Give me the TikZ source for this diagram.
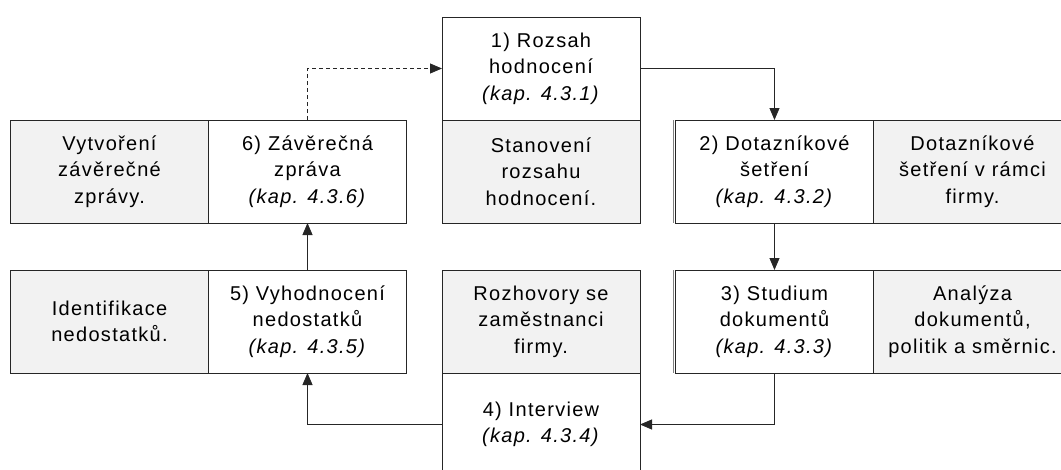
\documentclass[tikz,border=0pt]{standalone}
\usepackage{fontspec}
\setmainfont{Liberation Sans}[LetterSpace=6.5]
\usetikzlibrary{arrows.meta}
\definecolor{boxgray}{HTML}{F2F2F2}
\definecolor{linecol}{HTML}{262626}
\begin{document}
\begin{tikzpicture}[x=1pt,y=-1pt,
  half/.style={draw=linecol, line width=0.9pt, minimum width=198pt, minimum height=103pt,
    inner sep=0pt, outer sep=0pt, align=center, font=\fontsize{20}{26.5}\selectfont},
  titlebox/.style={half, fill=white},
  descbox/.style={half, fill=boxgray},
  conn/.style={draw=linecol, line width=0.9pt, -{Triangle[length=12pt,width=10pt]}},
  dconn/.style={conn, dash pattern=on 4pt off 3pt}]
\useasboundingbox (0,0) rectangle (1061,469);
\clip (0,0) rectangle (1061,469);
% box 6
\node[descbox]  (b6d) at (109.5,171.5) {Vytvoření\\závěrečné\\zprávy.};
\node[titlebox] (b6t) at (307.5,171.5) {6) Závěrečná\\zpráva\\\textit{(kap. 4.3.6)}};
% box 1
\node[titlebox] (b1t) at (541,68.5)  {1) Rozsah\\hodnocení\\\textit{(kap. 4.3.1)}};
\node[descbox]  (b1d) at (541,171.5) {Stanovení\\rozsahu\\hodnocení.};
% box 2
\node[titlebox] (b2t) at (774.5,171.5) {2) Dotazníkové\\šetření\\\textit{(kap. 4.3.2)}};
\node[descbox]  (b2d) at (972.5,171.5) {Dotazníkové\\šetření v rámci\\firmy.};
% box 5
\node[descbox]  (b5d) at (109.5,321.5) {Identifikace\\nedostatků.};
\node[titlebox] (b5t) at (307.5,321.5) {5) Vyhodnocení\\nedostatků\\\textit{(kap. 4.3.5)}};
% box 4
\node[descbox]  (b4d) at (541,321.5) {Rozhovory se\\zaměstnanci\\firmy.};
\node[titlebox] (b4t) at (541,424.5) {4) Interview\\\textit{(kap. 4.3.4)}};
% box 3
\node[titlebox] (b3t) at (774.5,321.5) {3) Studium\\dokumentů\\\textit{(kap. 4.3.3)}};
\node[descbox]  (b3d) at (972.5,321.5) {Analýza\\dokumentů,\\politik a směrnic.};
% double left edges
\draw[gray, line width=0.9pt] ([xshift=-2.2pt]b2t.north west) -- ([xshift=-2.2pt]b2t.south west);
\draw[gray, line width=0.9pt] ([xshift=-2.2pt]b3t.north west) -- ([xshift=-2.2pt]b3t.south west);
% connectors
\draw[dconn] (b6t.north) |- (b1t.west);
\draw[conn] (b1t.east) -| (b2t.north);
\draw[conn] (b2t.south) -- (b3t.north);
\draw[conn] (b3t.south) |- (b4t.east);
\draw[conn] (b4t.west) -| (b5t.south);
\draw[conn] (b5t.north) -- (b6t.south);
\end{tikzpicture}
\end{document}
